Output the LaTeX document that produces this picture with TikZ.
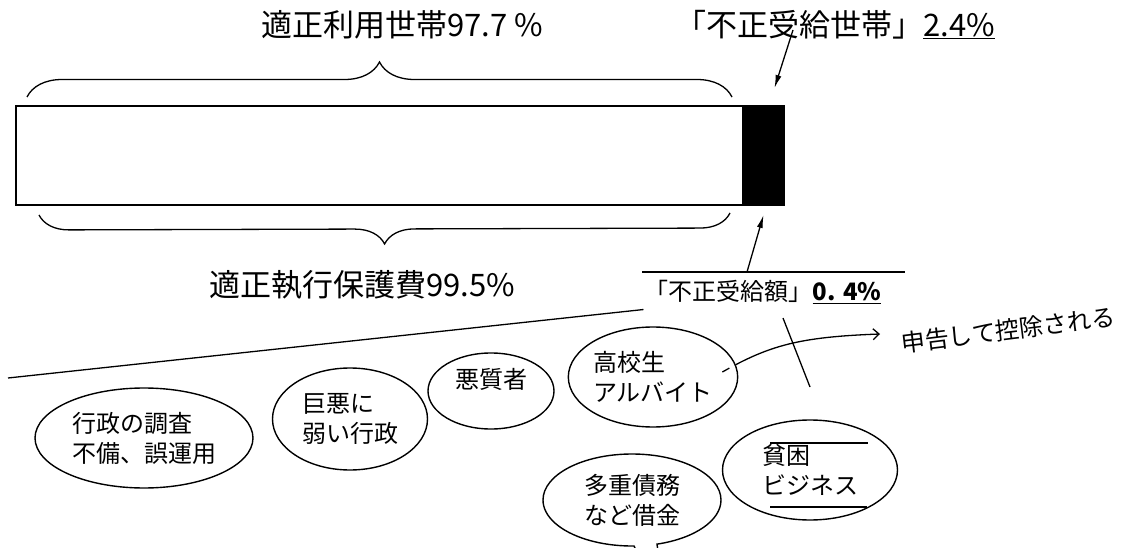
\documentclass[tikz,border=0pt]{standalone}
\usepackage{fontspec}
\setmainfont{Noto Sans CJK JP}
\usetikzlibrary{shapes.geometric,shapes.callouts,decorations.pathreplacing,arrows.meta}

\begin{document}
\begin{tikzpicture}[
    x=1pt, y=-1pt,
    title/.style = {font=\fontsize{31}{36}\selectfont, inner sep=0pt},
    small/.style = {font=\fontsize{24}{29}\selectfont, inner sep=0pt},
    bubble/.style = {shape=ellipse, draw=black, line width=1.4pt, align=left, inner sep=0pt, font=\fontsize{24}{30}\selectfont},
    barpart/.style = {draw=black, line width=2pt, inner sep=0pt, outer sep=0pt, minimum height=99pt, anchor=north west},
    curly/.style = {decorate, decoration={brace, amplitude=#1}, line width=1.3pt},
    pointer/.style = {-{Latex[length=13pt,width=6pt]}, line width=1.3pt},
    thin/.style = {line width=1.3pt}
  ]
  \useasboundingbox[fill=white] (0,0) rectangle (1136,548);

  % the bar
  \node[barpart, minimum width=727pt] (fair) at (16,106) {};
  \node[barpart, fill=black, minimum width=41pt] (fraud) at (fair.north east) {};

  % braces
  \draw[curly=35pt] ([xshift=11pt,yshift=9pt]fair.north west) -- ([xshift=-11pt,yshift=9pt]fair.north east);
  \draw[curly=30pt] ([xshift=-13pt,yshift=-8pt]fair.south east) -- ([xshift=23pt,yshift=-10pt]fair.south west);

  % titles
  \node[title] (tuse) at (402,25) {適正利用世帯97.7 \%};
  \node[title] (thouse) at (835,25) {「不正受給世帯」\underline{2.4\%}};
  \node[title] (tcost) at (362,285) {適正執行保護費99.5\%};
  \node[small] (tsum) at (763,292) {「不正受給額」\underline{\textbf{0. 4\%}}};

  \coordinate (hstart) at (793,30);
  \coordinate (sstart) at (747,272);
  \draw[pointer] (hstart) -- ([xshift=11pt,yshift=18pt]fraud.north);
  \draw[pointer] (sstart) -- ([yshift=-10pt]fraud.south);

  % lines round the amount
  \coordinate (oline) at (905,272);
  \coordinate (lfar) at (8,378);
  \coordinate (cut1) at (783,318);
  \coordinate (cut2) at (810,387);
  \draw[thin] (642,272) -- (oline);
  \draw[thin] (lfar) -- ([xshift=-1pt,yshift=-6pt]tsum.south west);
  \draw[thin] (cut1) -- (cut2);

  % causes
  \node[bubble, minimum width=218pt, minimum height=100pt] (admin) at (144,438) {行政の調査\\不備、誤運用};
  \node[bubble, minimum width=155pt, minimum height=102pt] (weak) at (350,419) {巨悪に\\弱い行政};
  \node[bubble, minimum width=126pt, minimum height=76pt] (bad) at (491,391) {\raisebox{3pt}[0pt][0pt]{悪質者}};
  \node[bubble, minimum width=167pt, minimum height=100pt] (student) at (653,377) {高校生\\アルバイト};
  \node[bubble, shape=ellipse callout, callout absolute pointer={(668,620)}, minimum width=178pt, minimum height=92pt] (debt) at (632,500) {多重債務\\など借金};
  \node[bubble, minimum width=175pt, minimum height=100pt] (poor) at (810,470) {貧困\\ビジネス};
  \draw[thin] ([xshift=-40pt,yshift=27pt]poor.center) -- ++(98,0);
  \draw[thin] ([xshift=-40pt,yshift=-37pt]poor.center) -- ++(97,0);

  % hand note
  \node[font=\fontsize{24}{28}\selectfont, rotate=7, inner sep=0pt] (note) at (1008,330) {申告して控除される};
  \coordinate (nend) at (880,334);
  \draw[thin, dash pattern=on 8pt off 7pt on 400pt, -{Straight Barb[length=6pt,width=11pt]}]
    ([xshift=-16pt,yshift=5pt]student.east) .. controls (770,345) and (800,337) .. (nend);
\end{tikzpicture}
\end{document}
